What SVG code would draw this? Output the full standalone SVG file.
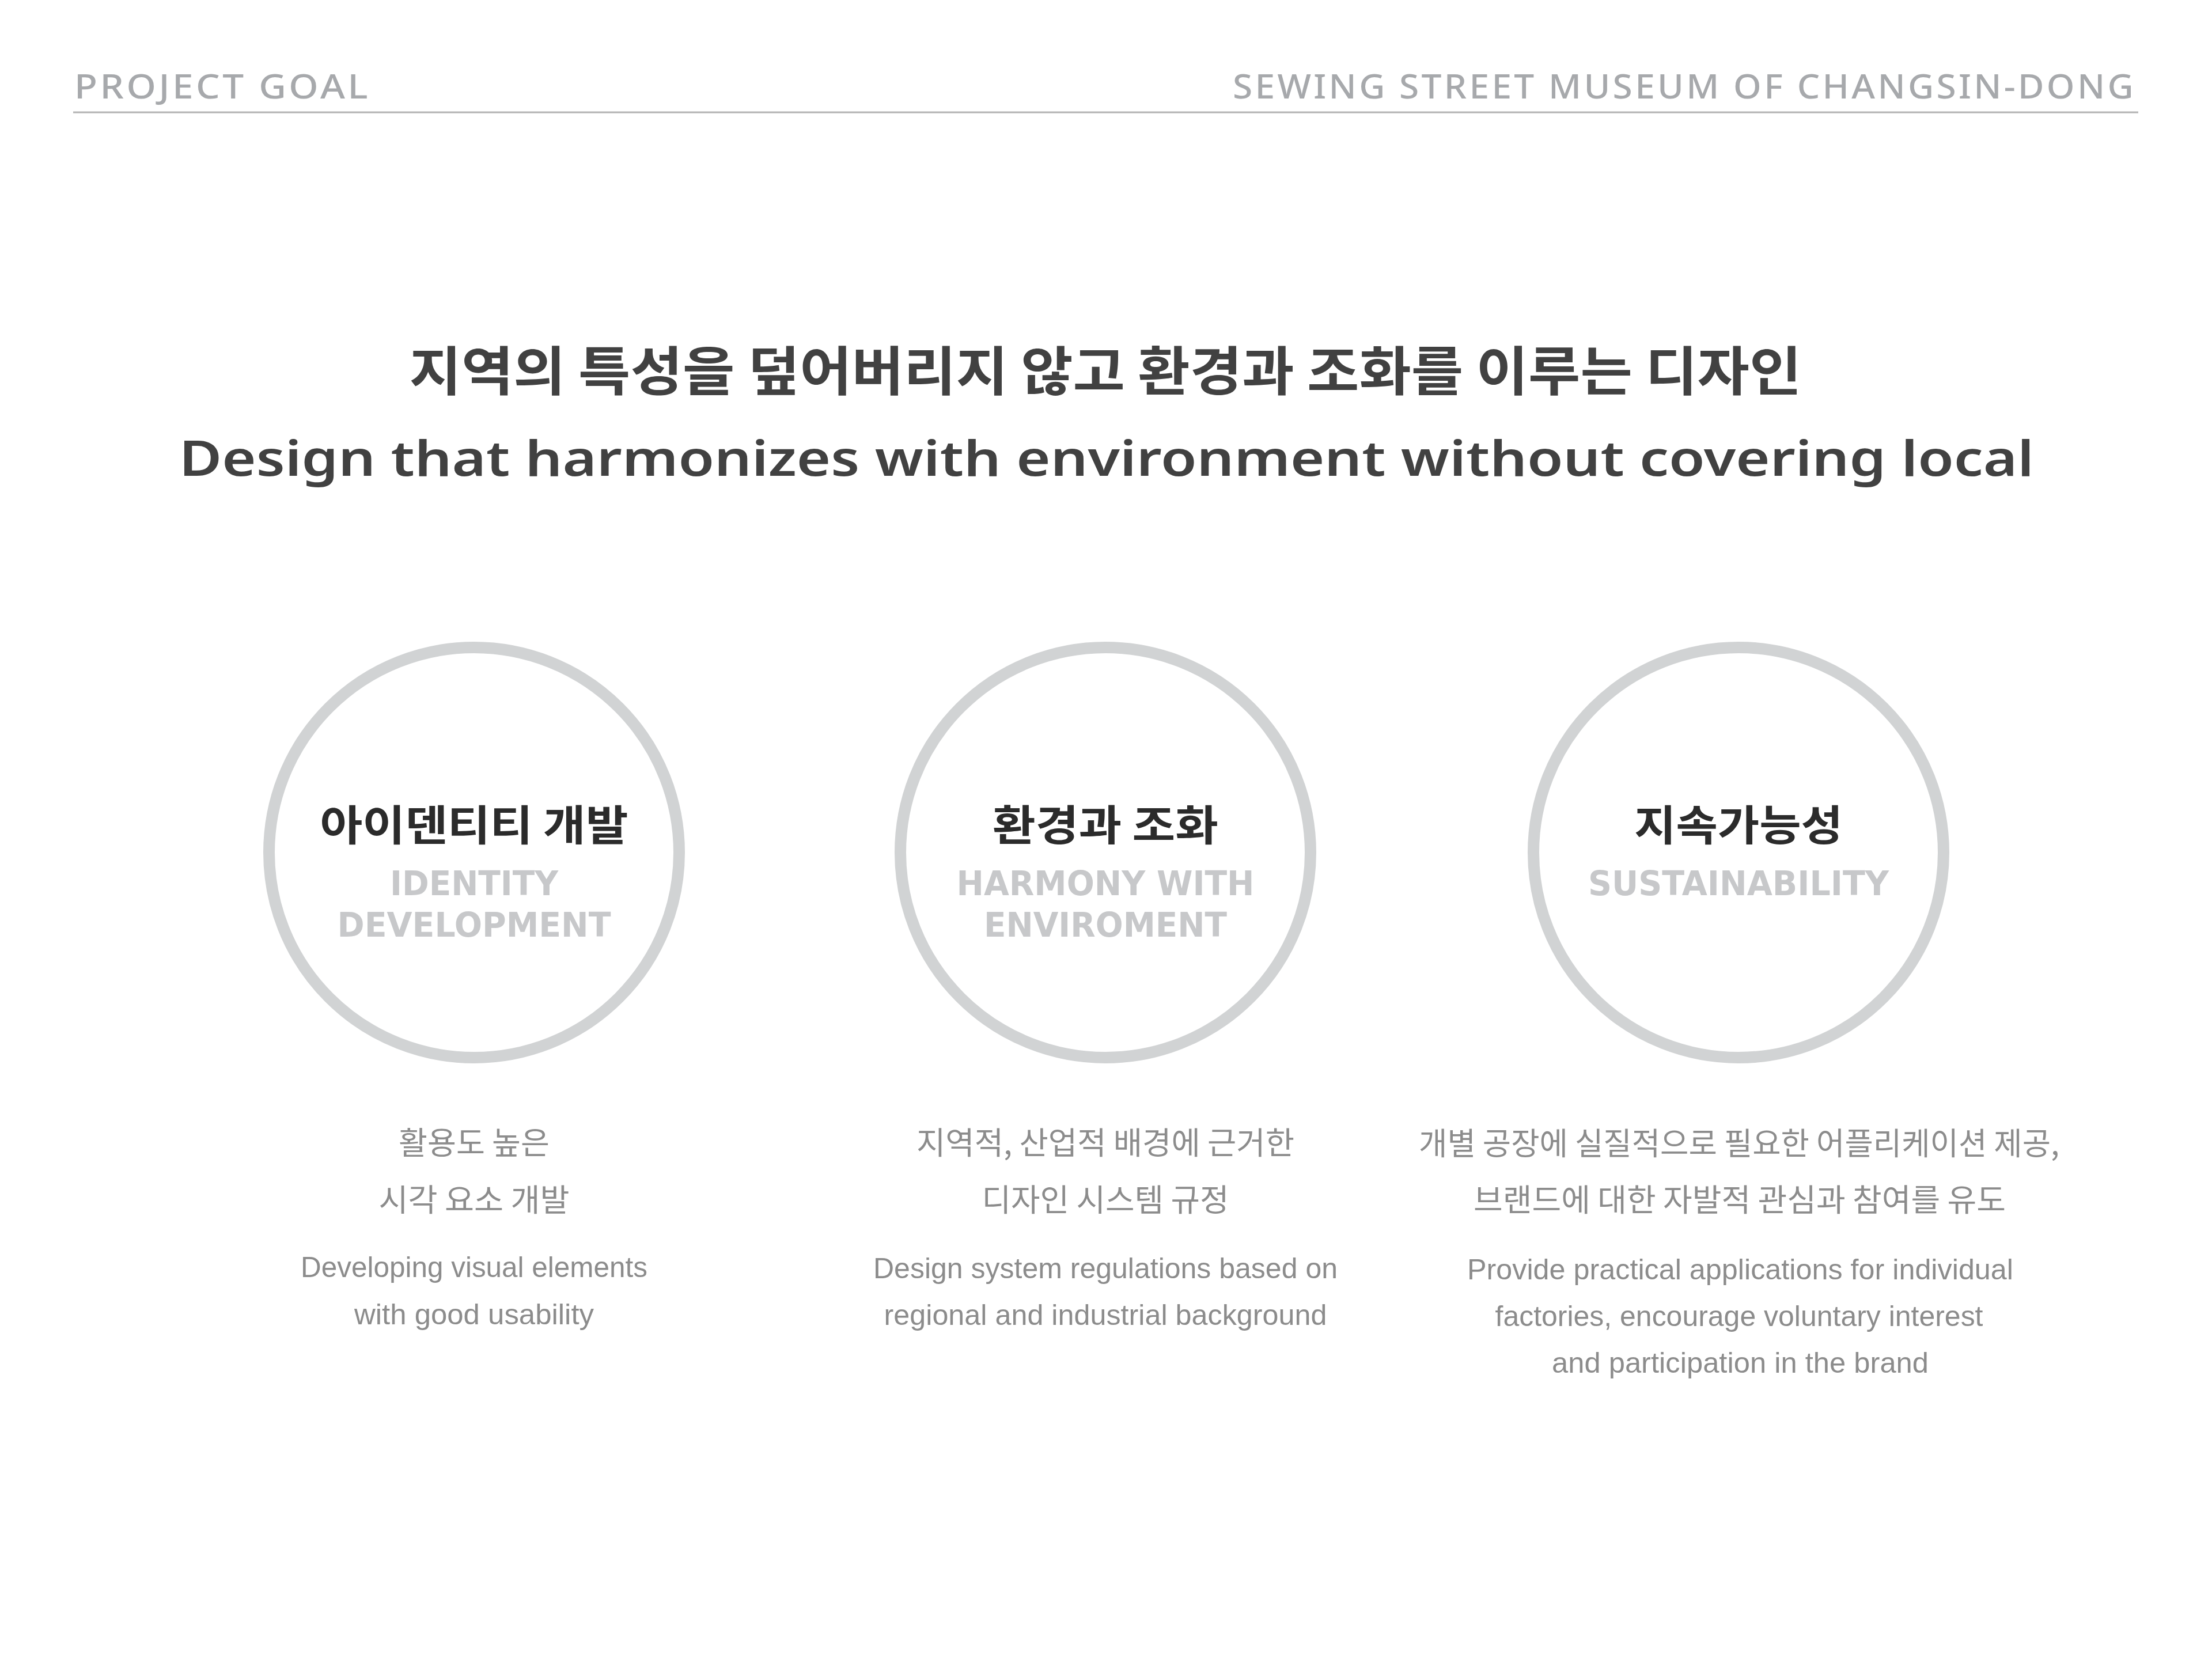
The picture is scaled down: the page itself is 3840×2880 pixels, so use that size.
<svg xmlns="http://www.w3.org/2000/svg" width="3840" height="2880" viewBox="0 0 3840 2880">
<style>
.hdr{font-family:"Noto Sans","Liberation Sans",sans-serif;font-size:58px;font-weight:500;fill:#a7a9ac;letter-spacing:4px}
.ttl-ko{font-family:"Noto Sans CJK KR","Noto Sans",sans-serif;font-size:92px;font-weight:700;fill:#414141;text-anchor:middle}
.ttl-en{font-family:"Noto Sans","Liberation Sans",sans-serif;font-size:84px;font-weight:600;fill:#414141;text-anchor:middle}
.ring{fill:#ffffff;stroke:#d1d3d4;stroke-width:20}
.lbl-ko{font-family:"Noto Sans CJK KR","Noto Sans",sans-serif;font-size:73px;font-weight:700;fill:#2b2b2b;text-anchor:middle}
.lbl-en{font-family:"DejaVu Sans","Liberation Sans",sans-serif;font-size:58px;font-weight:700;fill:#c7c8ca;text-anchor:middle}
.d-ko{font-family:"Noto Sans CJK KR","Noto Sans",sans-serif;font-size:54px;font-weight:400;fill:#8c8c8c;text-anchor:middle}
.d-en{font-family:"Liberation Sans","Noto Sans",sans-serif;font-size:50px;font-weight:400;fill:#8c8c8c;text-anchor:middle}
</style>
<rect width="3840" height="2880" fill="#ffffff"/>
<g id="header">
<text class="hdr" x="129" y="171" textLength="514" lengthAdjust="spacingAndGlyphs">PROJECT GOAL</text>
<text class="hdr" x="2140" y="171" textLength="1568" lengthAdjust="spacingAndGlyphs">SEWING STREET MUSEUM OF CHANGSIN-DONG</text>
<line x1="127" y1="195" x2="3712" y2="195" stroke="#b3b3b3" stroke-width="3"/>
</g>
<g id="title">
<text class="ttl-ko" x="1919" y="678" textLength="2417" lengthAdjust="spacingAndGlyphs">지역의 특성을 덮어버리지 않고 환경과 조화를 이루는 디자인</text>
<text class="ttl-en" x="1921" y="826" textLength="3220" lengthAdjust="spacingAndGlyphs">Design that harmonizes with environment without covering local</text>
</g>
<g id="connectors"></g>
<g id="node-identity">
<circle class="ring" cx="823" cy="1480" r="356"/>
<text class="lbl-ko" x="823" y="1459" textLength="535" lengthAdjust="spacingAndGlyphs">아이덴티티 개발</text>
<text class="lbl-en" x="823" y="1554" textLength="292" lengthAdjust="spacingAndGlyphs">IDENTITY</text>
<text class="lbl-en" x="823" y="1626" textLength="475" lengthAdjust="spacingAndGlyphs">DEVELOPMENT</text>
<text class="d-ko" x="823" y="2004" textLength="262" lengthAdjust="spacingAndGlyphs">활용도 높은</text>
<text class="d-ko" x="823" y="2103" textLength="331" lengthAdjust="spacingAndGlyphs">시각 요소 개발</text>
<text class="d-en" x="823" y="2217" textLength="602" lengthAdjust="spacingAndGlyphs">Developing visual elements</text>
<text class="d-en" x="823" y="2299" textLength="416" lengthAdjust="spacingAndGlyphs">with good usability</text>
</g>
<g id="node-harmony">
<circle class="ring" cx="1919" cy="1480" r="356"/>
<text class="lbl-ko" x="1919" y="1459" textLength="392" lengthAdjust="spacingAndGlyphs">환경과 조화</text>
<text class="lbl-en" x="1919" y="1554" textLength="517" lengthAdjust="spacingAndGlyphs">HARMONY WITH</text>
<text class="lbl-en" x="1919" y="1626" textLength="422" lengthAdjust="spacingAndGlyphs">ENVIROMENT</text>
<text class="d-ko" x="1919" y="2004" textLength="656" lengthAdjust="spacingAndGlyphs">지역적, 산업적 배경에 근거한</text>
<text class="d-ko" x="1919" y="2103" textLength="429" lengthAdjust="spacingAndGlyphs">디자인 시스템 규정</text>
<text class="d-en" x="1919" y="2219" textLength="806" lengthAdjust="spacingAndGlyphs">Design system regulations based on</text>
<text class="d-en" x="1919" y="2300" textLength="769" lengthAdjust="spacingAndGlyphs">regional and industrial background</text>
</g>
<g id="node-sustainability">
<circle class="ring" cx="3018" cy="1480" r="356"/>
<text class="lbl-ko" x="3018" y="1459" textLength="362" lengthAdjust="spacingAndGlyphs">지속가능성</text>
<text class="lbl-en" x="3018" y="1554" textLength="522" lengthAdjust="spacingAndGlyphs">SUSTAINABILITY</text>
<text class="d-ko" x="3019" y="2005" textLength="1112" lengthAdjust="spacingAndGlyphs">개별 공장에 실질적으로 필요한 어플리케이션 제공,</text>
<text class="d-ko" x="3020" y="2103" textLength="924" lengthAdjust="spacingAndGlyphs">브랜드에 대한 자발적 관심과 참여를 유도</text>
<text class="d-en" x="3021" y="2221" textLength="948" lengthAdjust="spacingAndGlyphs">Provide practical applications for individual</text>
<text class="d-en" x="3019" y="2302" textLength="847" lengthAdjust="spacingAndGlyphs">factories, encourage voluntary interest</text>
<text class="d-en" x="3021" y="2383" textLength="654" lengthAdjust="spacingAndGlyphs">and participation in the brand</text>
</g>
</svg>
